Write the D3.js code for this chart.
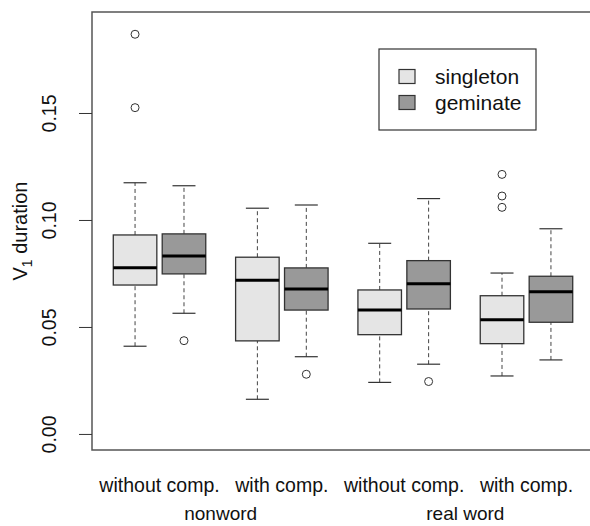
<!DOCTYPE html>
<html>
<head>
<meta charset="utf-8">
<script src="https://cdn.jsdelivr.net/npm/d3@7"></script>
<style>
  body { margin: 0; background: #fff; }
  svg text { font-family: "Liberation Sans", Arial, sans-serif; fill: #111; }
</style>
</head>
<body>
<div id="chart"></div>
<script>
// categories and groups
var conditions = ["without comp.", "with comp.", "without comp.", "with comp."];
var wordTypes = ["nonword", "real word"];
var seriesNames = ["singleton", "geminate"];
var seriesColors = ["#e5e5e5", "#999999"];

// box stats: [lower whisker, Q1, median, Q3, upper whisker]
var singletonStats = [
  [0.0410, 0.0696, 0.0777, 0.0930, 0.1174],
  [0.0162, 0.0435, 0.0718, 0.0826, 0.1055],
  [0.0241, 0.0464, 0.0579, 0.0673, 0.0891],
  [0.0271, 0.0422, 0.0534, 0.0646, 0.0752]
];
var geminateStats = [
  [0.0564, 0.0748, 0.0832, 0.0935, 0.1160],
  [0.0361, 0.0579, 0.0678, 0.0776, 0.1070],
  [0.0326, 0.0584, 0.0702, 0.0810, 0.1100],
  [0.0346, 0.0522, 0.0664, 0.0737, 0.0959]
];
var singletonOutliers = [[0.1868, 0.1525], [], [], [0.1213, 0.1112, 0.1059]];
var geminateOutliers = [[0.0436], [0.0279], [0.0245], []];

var yTicks = [0, 0.05, 0.10, 0.15];

var width = 590, height = 526;
var margin = {top: 12, right: -4, bottom: 76, left: 92};

var svg = d3.select("#chart")
  .append("svg")
  .attr("width", width)
  .attr("height", height);

// box positions like R's at = c(1,2, 3.5,4.5, 6,7, 8.5,9.5)
var xScale = d3.scaleLinear()
  .domain([0.12, 10.38])
  .range([margin.left, width - margin.right])

var yScale = d3.scaleLinear()
  .domain([-0.0075, 0.1972])
  .range([height - margin.bottom, margin.top])

var unit = xScale(1) - xScale(0)
var boxW = 0.89 * unit
var capW = 0.47 * unit

var boxes = []
conditions.forEach(function(c, i) {
  var base = 1 + i * 2.5
  boxes.push({pos: base, s: singletonStats[i], out: singletonOutliers[i], fill: seriesColors[0]})
  boxes.push({pos: base + 1, s: geminateStats[i], out: geminateOutliers[i], fill: seriesColors[1]})
})

var boxG = svg.append("g").attr("class", "boxes")

boxes.forEach(function(b) {
  var cx = xScale(b.pos)
  var g = boxG.append("g")

  // whiskers
  g.append("line")
    .attr("x1", cx).attr("x2", cx)
    .attr("y1", yScale(b.s[0])).attr("y2", yScale(b.s[1]))
    .attr("stroke", "#444").attr("stroke-dasharray", "4,3")
  g.append("line")
    .attr("x1", cx).attr("x2", cx)
    .attr("y1", yScale(b.s[3])).attr("y2", yScale(b.s[4]))
    .attr("stroke", "#444").attr("stroke-dasharray", "4,3")

  // staples
  ;[b.s[0], b.s[4]].forEach(function(v) {
    g.append("line")
      .attr("x1", cx - capW / 2).attr("x2", cx + capW / 2)
      .attr("y1", yScale(v)).attr("y2", yScale(v))
      .attr("stroke", "#333").attr("stroke-width", 1.2)
  })

  // box
  g.append("rect")
    .attr("x", cx - boxW / 2)
    .attr("y", yScale(b.s[3]))
    .attr("width", boxW)
    .attr("height", yScale(b.s[1]) - yScale(b.s[3]))
    .attr("fill", b.fill)
    .attr("stroke", "#333")
    .attr("stroke-width", 1.3)

  // median
  g.append("line")
    .attr("x1", cx - boxW / 2).attr("x2", cx + boxW / 2)
    .attr("y1", yScale(b.s[2])).attr("y2", yScale(b.s[2]))
    .attr("stroke", "#000").attr("stroke-width", 3)

  // outliers
  g.selectAll("circle")
    .data(b.out)
    .enter()
    .append("circle")
    .attr("cx", cx)
    .attr("cy", d => yScale(d))
    .attr("r", 4)
    .attr("fill", "none")
    .attr("stroke", "#333")
    .attr("stroke-width", 1)
})

// frame
svg.append("rect")
  .attr("x", margin.left)
  .attr("y", margin.top)
  .attr("width", xScale.range()[1] - margin.left)
  .attr("height", yScale.range()[0] - margin.top)
  .attr("fill", "none")
  .attr("stroke", "#555")
  .attr("stroke-width", 1.5)

// Y axis
var yAxis = d3.axisLeft(yScale)
  .tickValues(yTicks)
  .tickSize(13)
  .tickFormat(d3.format(".2f"))

var yAxisG = svg.append("g")
  .attr("transform", `translate(${margin.left},0)`)
  .call(yAxis)
yAxisG.select(".domain").remove()
yAxisG.selectAll(".tick line").attr("stroke", "#333")
yAxisG.selectAll(".tick text")
  .attr("x", 0).attr("dy", 0)
  .attr("transform", "translate(-36,0) rotate(-90)")
  .style("text-anchor", "middle")
  .style("font-size", "19.5px")
  .attr("fill", "#111")

// Y label
var yLab = svg.append("text")
  .attr("transform", `translate(27,${(margin.top + yScale.range()[0]) / 2}) rotate(-90)`)
  .style("text-anchor", "middle")
  .style("font-size", "20px")
yLab.append("tspan").text("V")
yLab.append("tspan").text("1").attr("dy", 5).style("font-size", "14px")
yLab.append("tspan").text(" duration").attr("dy", -5)

// X labels
svg.append("g").selectAll("text")
  .data(conditions)
  .enter()
  .append("text")
  .attr("x", (d, i) => xScale(1.5 + i * 2.5))
  .attr("y", 492)
  .style("text-anchor", "middle")
  .style("font-size", "19.5px")
  .text(d => d)

svg.append("g").selectAll("text")
  .data(wordTypes)
  .enter()
  .append("text")
  .attr("x", (d, i) => xScale(2.75 + i * 5))
  .attr("y", 520)
  .style("text-anchor", "middle")
  .style("font-size", "19px")
  .text(d => d)

// legend
var legend = svg.append("g").attr("transform", "translate(379,49)")
legend.append("rect")
  .attr("width", 157).attr("height", 81)
  .attr("fill", "#fff").attr("stroke", "#333").attr("stroke-width", 1.2)

seriesNames.forEach(function(name, i) {
  legend.append("rect")
    .attr("x", 20).attr("y", 20.5 + i * 26)
    .attr("width", 16).attr("height", 14)
    .attr("fill", seriesColors[i]).attr("stroke", "#333").attr("stroke-width", 1.2)
  legend.append("text")
    .attr("x", 56).attr("y", 35 + i * 26)
    .style("font-size", "21px")
    .text(name)
})
</script>
</body>
</html>
